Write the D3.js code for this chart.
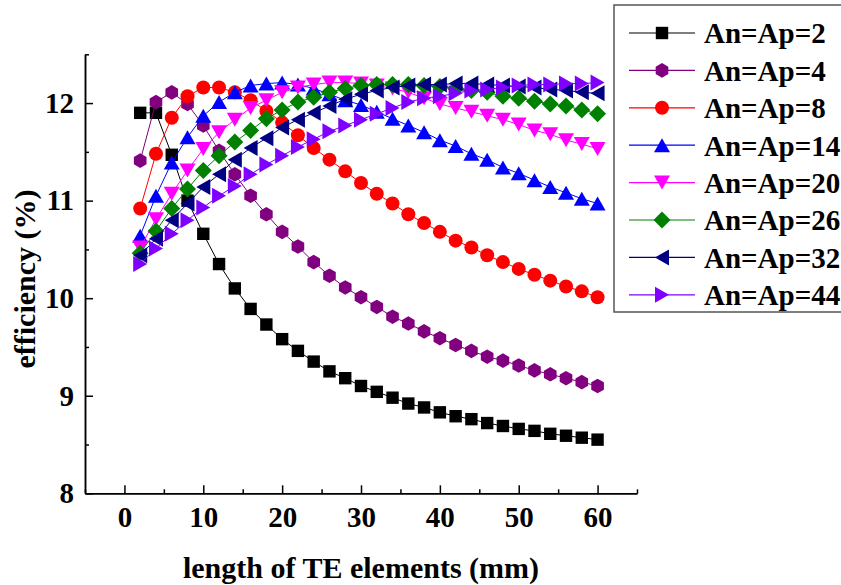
<!DOCTYPE html>
<html>
<head>
<meta charset="utf-8">
<script src="https://cdn.jsdelivr.net/npm/d3@7"></script>
<style>
    body { margin: 0; background: #fff; }
    svg text { font-family: "Liberation Serif", Tinos, "Times New Roman", "Nimbus Roman", "DejaVu Serif", serif !important; font-weight: bold; }
</style>
</head>
<body>
<div id="chart"></div>
<script>
// lengths of the TE elements (mm)
const lengths = [2, 4, 6, 8, 10, 12, 14, 16, 18, 20, 22, 24, 26, 28, 30,
    32, 34, 36, 38, 40, 42, 44, 46, 48, 50, 52, 54, 56, 58, 60];

// efficiency (%) per series
const effAp2 = [11.90, 11.90, 11.47, 11.00, 10.66, 10.35, 10.10, 9.89, 9.73, 9.58, 9.46, 9.35, 9.25, 9.18, 9.10,
    9.04, 8.98, 8.92, 8.88, 8.83, 8.79, 8.76, 8.72, 8.69, 8.66, 8.64, 8.61, 8.59, 8.57, 8.55];
const effAp4 = [11.41, 12.01, 12.11, 11.99, 11.77, 11.51, 11.27, 11.05, 10.86, 10.68, 10.53, 10.37, 10.23, 10.11, 10.01,
    9.91, 9.81, 9.74, 9.66, 9.59, 9.52, 9.46, 9.40, 9.36, 9.31, 9.26, 9.22, 9.18, 9.14, 9.10];
const effAp8 = [10.92, 11.48, 11.85, 12.07, 12.16, 12.16, 12.11, 12.03, 11.92, 11.80, 11.67, 11.54, 11.42, 11.30, 11.18,
    11.07, 10.97, 10.86, 10.77, 10.68, 10.59, 10.52, 10.44, 10.37, 10.30, 10.24, 10.18, 10.12, 10.07, 10.01];
const effAp14 = [10.64, 11.05, 11.39, 11.65, 11.87, 12.01, 12.11, 12.18, 12.20, 12.21, 12.19, 12.15, 12.09, 12.03, 11.98,
    11.91, 11.84, 11.77, 11.70, 11.62, 11.56, 11.48, 11.42, 11.34, 11.28, 11.21, 11.14, 11.08, 11.02, 10.97];
const effAp20 = [10.52, 10.81, 11.07, 11.31, 11.53, 11.70, 11.83, 11.95, 12.03, 12.11, 12.16, 12.19, 12.21, 12.21, 12.20,
    12.18, 12.15, 12.11, 12.05, 11.99, 11.95, 11.91, 11.87, 11.83, 11.78, 11.72, 11.68, 11.62, 11.58, 11.53];
const effAp26 = [10.46, 10.69, 10.92, 11.12, 11.31, 11.46, 11.60, 11.72, 11.84, 11.93, 12.01, 12.06, 12.11, 12.15, 12.18,
    12.19, 12.19, 12.19, 12.18, 12.17, 12.15, 12.13, 12.11, 12.07, 12.05, 12.02, 11.99, 11.97, 11.93, 11.89];
const effAp32 = [10.44, 10.61, 10.80, 10.97, 11.14, 11.27, 11.42, 11.54, 11.64, 11.75, 11.83, 11.90, 11.97, 12.04, 12.09,
    12.13, 12.16, 12.18, 12.19, 12.19, 12.20, 12.20, 12.19, 12.18, 12.17, 12.16, 12.14, 12.13, 12.11, 12.10];
const effAp44 = [10.35, 10.51, 10.66, 10.80, 10.93, 11.05, 11.15, 11.27, 11.37, 11.46, 11.55, 11.63, 11.71, 11.77, 11.83,
    11.89, 11.95, 12.01, 12.05, 12.07, 12.10, 12.13, 12.14, 12.16, 12.18, 12.19, 12.19, 12.20, 12.20, 12.21];

const seriesNames = ["An=Ap=2", "An=Ap=4", "An=Ap=8", "An=Ap=14", "An=Ap=20", "An=Ap=26", "An=Ap=32", "An=Ap=44"];
const seriesValues = [effAp2, effAp4, effAp8, effAp14, effAp20, effAp26, effAp32, effAp44];
const seriesColors = ["#000000", "#800080", "#FF0000", "#0000FF", "#FF00FF", "#008000", "#000080", "#8000FF"];
const seriesSymbols = ["square", "hexagon", "circle", "up", "down", "diamond", "left", "right"];

const xTicks = [0, 10, 20, 30, 40, 50, 60];
const xMinorTicks = [-5, 5, 15, 25, 35, 45, 55, 65];
const yTicks = [8, 9, 10, 11, 12];
const yMinorTicks = [8.5, 9.5, 10.5, 11.5, 12.5];

// marker outlines, centred on 0,0
function symbolPath(type) {
    let pts;
    switch (type) {
        case "square": pts = [[-6.2, -6.2], [6.2, -6.2], [6.2, 6.2], [-6.2, 6.2]]; break;
        case "hexagon": pts = d3.range(6).map(k => {
            let a = (-90 + 60 * k) * Math.PI / 180;
            return [7.3 * Math.cos(a), 7.3 * Math.sin(a)];
        }); break;
        case "circle": return "M7,0A7,7 0 1,1 -7,0A7,7 0 1,1 7,0Z";
        case "up": pts = [[0, -7], [8, 7], [-8, 7]]; break;
        case "down": pts = [[0, 7], [8, -7], [-8, -7]]; break;
        case "diamond": pts = [[0, -8.5], [8.5, 0], [0, 8.5], [-8.5, 0]]; break;
        case "left": pts = [[-7, 0], [7, -8], [7, 8]]; break;
        case "right": pts = [[7, 0], [-7, -8], [-7, 8]]; break;
    }
    return "M" + pts.map(p => p.join(",")).join("L") + "Z";
}

class efficiencyChart {
    constructor(parentElement) {
        this.parentElement = parentElement;
        this.initVis();
    }

    initVis() {
        let vis = this;
        vis.width = 841;
        vis.height = 585;

        vis.svg = d3.select("#" + vis.parentElement).append("svg")
            .attr("width", vis.width)
            .attr("height", vis.height);

        vis.x = d3.scaleLinear().domain([-5, 65]).range([85, 637]);
        vis.y = d3.scaleLinear().domain([8, 12.5]).range([493.3, 54.3]);

        vis.series = seriesNames.map((name, i) => ({
            name: name,
            color: seriesColors[i],
            symbol: seriesSymbols[i],
            points: lengths.map((l, j) => ({ x: l, y: seriesValues[i][j] }))
        }));

        vis.updateVis();
    }

    updateVis() {
        let vis = this;

        // axes: ticks point into the plot
        let xAxis = d3.axisBottom(vis.x).tickValues(xTicks).tickSizeInner(-8).tickSizeOuter(0).tickPadding(13);
        let xMinor = d3.axisBottom(vis.x).tickValues(xMinorTicks).tickSizeInner(-4).tickSizeOuter(0).tickFormat("");
        let yAxis = d3.axisLeft(vis.y).tickValues(yTicks).tickSizeInner(-8).tickSizeOuter(0).tickPadding(11)
            .tickFormat(d3.format("d"));
        let yMinor = d3.axisLeft(vis.y).tickValues(yMinorTicks).tickSizeInner(-4).tickSizeOuter(0).tickFormat("");

        vis.svg.append("g").attr("transform", "translate(0,493.3)").call(xMinor);
        vis.svg.append("g").attr("transform", "translate(0,493.3)").call(xAxis);
        vis.svg.append("g").attr("transform", "translate(85,0)").call(yMinor);
        vis.svg.append("g").attr("transform", "translate(85,0)").call(yAxis);

        vis.svg.selectAll("g").attr("font-family", null);
        vis.svg.selectAll(".domain, .tick line").attr("stroke", "#000").attr("stroke-width", 1.5);
        vis.svg.selectAll(".tick text")
            .attr("font-size", 29)
            .attr("fill", "#000");

        // axis titles
        vis.svg.append("text")
            .attr("x", 361).attr("y", 578)
            .attr("text-anchor", "middle")
            .attr("font-size", 30)
            .text("length of TE elements (mm)");

        vis.svg.append("text")
            .attr("transform", "translate(35,279) rotate(-90)")
            .attr("text-anchor", "middle")
            .attr("font-size", 30)
            .text("efficiency (%)");

        // data
        let line = d3.line().x(d => vis.x(d.x)).y(d => vis.y(d.y));
        let groups = vis.svg.selectAll(".series").data(vis.series).enter()
            .append("g").attr("class", "series");

        groups.append("path")
            .attr("d", d => line(d.points))
            .attr("fill", "none")
            .attr("stroke", d => d.color)
            .attr("stroke-width", 1);

        groups.each(function(s) {
            d3.select(this).selectAll(".pt").data(s.points).enter()
                .append("path")
                .attr("class", "pt")
                .attr("transform", d => "translate(" + vis.x(d.x) + "," + vis.y(d.y) + ")")
                .attr("d", symbolPath(s.symbol))
                .attr("fill", s.color);
        });

        // legend
        let legend = vis.svg.append("g");
        legend.append("rect")
            .attr("x", 614).attr("y", 5)
            .attr("width", 260).attr("height", 307)
            .attr("fill", "#fff")
            .attr("stroke", "#555")
            .attr("stroke-width", 1.5);

        let rows = legend.selectAll(".row").data(vis.series).enter()
            .append("g")
            .attr("transform", (d, i) => "translate(0," + (33 + i * 37.4) + ")");

        rows.append("line")
            .attr("x1", 629).attr("x2", 695)
            .attr("stroke", d => d.color)
            .attr("stroke-width", 1.2);
        rows.append("path")
            .attr("transform", "translate(662,0)")
            .attr("d", d => symbolPath(d.symbol))
            .attr("fill", d => d.color);
        rows.append("text")
            .attr("x", 704).attr("dy", "0.36em")
            .attr("font-size", 29)
            .text(d => d.name);
    }
}

new efficiencyChart("chart");
</script>
</body>
</html>
